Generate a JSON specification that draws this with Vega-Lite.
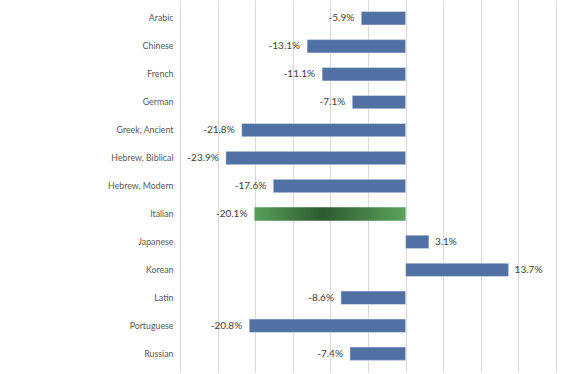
{
  "$schema": "https://vega.github.io/schema/vega-lite/v6.json",
  "width": 376,
  "height": 372,
  "autosize": {"type": "none"},
  "padding": {"left": 180, "top": 0, "right": 5, "bottom": 2},
  "background": "white",
  "config": {
    "view": {"stroke": null},
    "locale": {"number": {"decimal": ".", "thousands": ",", "grouping": [3], "currency": ["$", ""], "minus": "-"}}
  },
  "data": {
    "values": [
      {"language": "Arabic", "change": -0.059},
      {"language": "Chinese", "change": -0.131},
      {"language": "French", "change": -0.111},
      {"language": "German", "change": -0.071},
      {"language": "Greek, Ancient", "change": -0.218},
      {"language": "Hebrew, Biblical", "change": -0.239},
      {"language": "Hebrew, Modern", "change": -0.176},
      {"language": "Italian", "change": -0.201},
      {"language": "Japanese", "change": 0.031},
      {"language": "Korean", "change": 0.137},
      {"language": "Latin", "change": -0.086},
      {"language": "Portuguese", "change": -0.208},
      {"language": "Russian", "change": -0.074}
    ]
  },
  "encoding": {
    "y": {
      "field": "language",
      "type": "nominal",
      "sort": ["Arabic", "Chinese", "French", "German", "Greek, Ancient", "Hebrew, Biblical", "Hebrew, Modern", "Italian", "Japanese", "Korean", "Latin", "Portuguese", "Russian"],
      "scale": {"paddingInner": 0.52, "paddingOuter": 0.415},
      "axis": {
        "title": null,
        "ticks": false,
        "domain": false,
        "labelFont": "Lato",
        "labelFontSize": 8.8,
        "labelColor": "#595959",
        "labelPadding": 7
      }
    },
    "x": {
      "field": "change",
      "type": "quantitative",
      "scale": {"domain": [-0.3, 0.2], "nice": false, "zero": false},
      "axis": {
        "title": null,
        "values": [-0.3, -0.25, -0.2, -0.15, -0.1, -0.05, 0, 0.05, 0.1, 0.15, 0.2],
        "grid": true,
        "gridColor": "#d9d9d9",
        "gridWidth": 1,
        "labels": false,
        "ticks": false,
        "domain": false
      }
    }
  },
  "layer": [
    {
      "transform": [{"filter": "datum.language !== 'Italian'"}],
      "mark": {"type": "bar", "color": "#5171a5", "stroke": "#eef1f7", "strokeWidth": 0.5}
    },
    {
      "transform": [{"filter": "datum.language === 'Italian'"}],
      "mark": {
        "type": "bar",
        "color": {
          "gradient": "linear",
          "x1": 0, "y1": 0, "x2": 1, "y2": 0,
          "stops": [
            {"offset": 0, "color": "#58a05a"},
            {"offset": 0.45, "color": "#2d5a2f"},
            {"offset": 1, "color": "#5ba35c"}
          ]
        }
      }
    },
    {
      "transform": [{"filter": "datum.change < 0"}],
      "mark": {"type": "text", "align": "right", "dx": -7, "font": "Lato", "fontSize": 10, "color": "#404040"},
      "encoding": {"text": {"field": "change", "type": "quantitative", "format": ".1%"}}
    },
    {
      "transform": [{"filter": "datum.change >= 0"}],
      "mark": {"type": "text", "align": "left", "dx": 6, "font": "Lato", "fontSize": 10, "color": "#404040"},
      "encoding": {"text": {"field": "change", "type": "quantitative", "format": ".1%"}}
    }
  ]
}
